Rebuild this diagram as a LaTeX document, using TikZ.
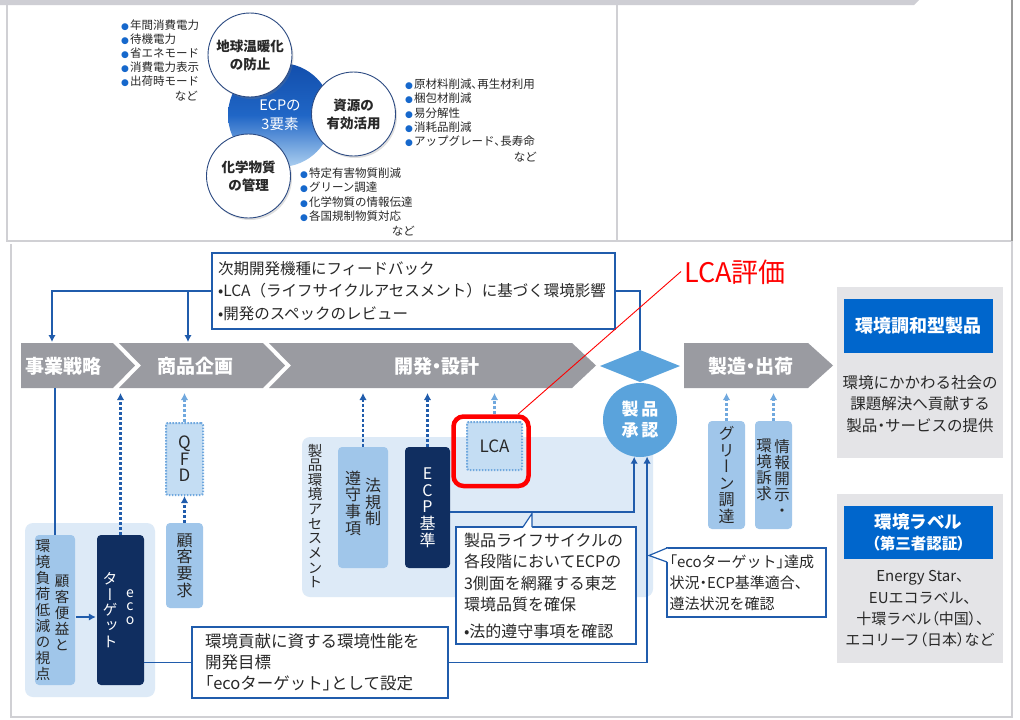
\documentclass[tikz,border=0pt]{standalone}
\usepackage{fontspec}
\setmainfont{Noto Sans CJK JP}
\newfontfamily\vjp[RawFeature=+vert]{Noto Sans CJK JP}
\newfontfamily\pjp[RawFeature=+palt]{Noto Sans CJK JP}
\newfontfamily\dejavu{DejaVu Sans}
\usetikzlibrary{arrows.meta,shadows,calc}

\definecolor{navybox}{RGB}{16,46,96}
\definecolor{connc}{RGB}{32,92,172}
\definecolor{lblue}{RGB}{160,198,234}
\definecolor{pblue}{RGB}{221,234,247}
\definecolor{qblue}{RGB}{196,221,243}
\definecolor{dblue}{RGB}{112,168,222}
\definecolor{cblue}{RGB}{90,163,220}
\definecolor{chevc}{RGB}{154,155,161}
\definecolor{rpanel}{RGB}{228,228,231}
\definecolor{hblue}{RGB}{0,102,204}
\definecolor{bulblue}{RGB}{22,104,204}
\definecolor{ecpdark}{RGB}{18,78,172}
\definecolor{ecpmid}{RGB}{32,102,198}
\definecolor{ecplight}{RGB}{172,207,240}
\definecolor{ringc}{RGB}{44,74,130}
\definecolor{framec}{RGB}{208,208,212}
\definecolor{topbar}{RGB}{206,206,212}
\definecolor{txtc}{RGB}{40,40,40}

\makeatletter
\newcommand\vt[2][1.04em]{\vtop{\baselineskip=#1\relax\lineskiplimit=-100pt\lineskip=0pt\@tfor\vt@c:=#2\do{\hbox to 1em{\hss\vt@c\hss}}}}
\makeatother
\newcommand\bul{\textcolor{bulblue}{\dejavu\fontsize{9}{9}\selectfont ●}\hspace{1pt}}
\newcommand\fs[2]{\fontsize{#1}{#2}\selectfont}
\newcommand\pp[1]{{\pjp #1}}

\begin{document}
\begin{tikzpicture}[x=1pt,y=-1pt,
  conn/.style={draw=connc,line width=1.8pt},
  arr/.style={conn,-{Latex[length=7pt,width=7.5pt]}},
  darr/.style={draw=connc,line width=2.2pt,dash pattern=on 3pt off 2pt,-{Latex[length=7pt,width=7.5pt]}},
  larr/.style={draw=dblue,line width=2.2pt,dash pattern=on 3pt off 2pt,-{Latex[length=7pt,width=7.5pt]}},
  lbox/.style={fill=lblue,rounded corners=4pt,inner sep=0pt},
  nbox/.style={fill=navybox,rounded corners=4pt,inner sep=0pt},
  qbox/.style={fill=qblue,draw=dblue,line width=2pt,dash pattern=on 1.6pt off 1.4pt,inner sep=0pt,rounded corners=2pt},
  tbox/.style={draw=connc,line width=1.2pt,fill=white,align=left,inner ysep=0pt,text=txtc},
  vtx/.style={inner sep=0pt,font=\vjp,text=txtc},
  li/.style={anchor=west,inner sep=0pt,font=\fs{11.5}{14},text=txtc},
  chev/.style={text=white,font=\pjp\bfseries\fs{19}{19},inner sep=0pt},
  ring/.style={circle,minimum size=84pt,inner sep=0pt,fill=white,draw=ringc,line width=0.9pt,
    drop shadow={shadow xshift=1.5pt,shadow yshift=-2pt,opacity=0.25},align=center,
    font=\bfseries\fs{13.5}{18},text=txtc}
]
\useasboundingbox (0,0) rectangle (1020,720);
\fill[white] (0,0) rectangle (1020,720);

% ---------- frames ----------
\fill[topbar] (0,0) -- (919,0) -- (914,5) -- (0,5) -- cycle;
\draw[framec,line width=1.2pt] (7,5) -- (7,241) -- (1012,241);
\draw[framec,line width=1.2pt] (617,5) -- (617,241);
\draw[gray!80,line width=1.2pt] (1012,0) -- (1012,241);
\draw[framec,line width=1.2pt] (11,244) -- (11,717) -- (1012,717) -- (1012,241);

% ---------- ECP circles ----------
\node[circle,minimum size=104pt,inner sep=0pt,top color=ecpdark,bottom color=ecplight,middle color=ecpmid,
  text=white,align=center,font=\fs{14.5}{18.5}] (ecp3) at (280,115) {ECPの\\3要素};
\node[ring] (c1) at (250,55) {地球温暖化\\の防止};
\node[ring] (c2) at (353.5,114) {資源の\\有効活用};
\node[ring] (c3) at (248.5,176) {化学物質\\の管理};

\foreach \t [count=\i] in {年間消費電力,待機電力,省エネモード,消費電力表示,出荷時モード}
  \node[li] (la\i) at (121,{25+14*(\i-1)}) {\bul\t};
\node[li,anchor=east] (lan) at (198,96) {など};
\foreach \t [count=\i] in {原材料削減\pp{、}再生材利用,梱包材削減,易分解性,消耗品削減,アップグレード\pp{、}長寿命}
  \node[li] (lb\i) at (405,{84.3+14.35*(\i-1)}) {\bul\t};
\node[li,anchor=east] (lbn) at (537,157) {など};
\foreach \t [count=\i] in {特定有害物質削減,グリーン調達,化学物質の情報伝達,各国規制物質対応}
  \node[li] (lc\i) at (300,{173.3+14.2*(\i-1)}) {\bul\t};
\node[li,anchor=east] (lcn) at (415,231) {など};

% ---------- process chevrons ----------
\fill[chevc] (21,343) -- (113,343) -- (135,365.5) -- (113,388) -- (21,388) -- cycle;
\fill[chevc] (119,343) -- (263,343) -- (285,365.5) -- (263,388) -- (119,388) -- (141,365.5) -- cycle;
\fill[chevc] (269,343) -- (572,343) -- (596,365.5) -- (572,388) -- (269,388) -- (291,365.5) -- cycle;
\fill[chevc] (684,343) -- (808,343) -- (833,365.5) -- (808,388) -- (684,388) -- cycle;
\node[chev] (s1) at (63,366) {事業戦略};
\node[chev] (s2) at (195,366) {商品企画};
\node[chev] (s3) at (437,366) {開発・設計};
\node[chev] (s4) at (751,366) {製造・出荷};
\fill[cblue] (600,366) -- (640,350) -- (680,366) -- (640,382) -- cycle;
\coordinate (dia) at (640,350);

\coordinate (s1t) at (52,342);
\coordinate (s2t) at (188,342);
\coordinate (fbj) at (188,291);
\coordinate (s1b) at (55,388);
\coordinate (s2b) at (120.5,393);
\coordinate (s2q) at (184.5,393);
\coordinate (s3a) at (363,393);
\coordinate (s3b) at (427.5,393);
\coordinate (s3c) at (494.5,393);
\coordinate (s4a) at (726.5,393);
\coordinate (s4b) at (773.5,393);

% ---------- feedback box ----------
\node[tbox,text width=391pt,inner xsep=6pt,minimum height=76pt,font=\fs{15.5}{22.5}] (fb) at (413.5,291)
  {次期開発機種にフィードバック\\•LCA（ライフサイクルアセスメント）に基づく環境影響\\•開発のスペックのレビュー};

% ---------- left group ----------
\node[fill=pblue,rounded corners=8pt,minimum width=130pt,minimum height=174pt,inner sep=0pt] (lp) at (90,610) {};
\node[lbox,minimum width=40pt,minimum height=150pt] (cb) at (55,610) {};
\node[vtx] (cbt1) at (43,610) {\fs{14.5}{14.5}\vt[1.1em]{環境負荷低減の視点}};
\node[vtx] (cbt2) at (62,613) {\fs{14.5}{14.5}\vt[1.1em]{顧客便益と}};
\node[nbox,minimum width=47pt,minimum height=150pt] (eco) at (120.5,610) {};
\node[vtx,text=white] (ecot1) at (130,607) {\fs{14}{14}\vt[0.95em]{eco}};
\node[vtx,text=white] (ecot2) at (110,610) {\fs{15}{15}\vt{ターゲット}};

\node[qbox,minimum width=37pt,minimum height=72pt,font=\vjp,text=txtc] (qfd) at (184.5,459) {\fs{17}{17}\vt[0.97em]{QFD}};
\node[lbox,minimum width=37pt,minimum height=85pt,font=\vjp,text=txtc] (req) at (184.5,565.5) {\fs{16}{16}\vt{顧客要求}};

% ---------- assessment group ----------
\node[fill=pblue,rounded corners=8pt,minimum width=351pt,minimum height=160pt,inner sep=0pt] (ap) at (477.5,517) {};
\node[vtx] (apt) at (315,516) {\fs{14.5}{14.5}\vt[1.01em]{製品環境アセスメント}};
\node[lbox,minimum width=50pt,minimum height=121pt] (law) at (363,507.5) {};
\node[vtx] (lawt1) at (353,503) {\fs{16}{16}\vt{遵守事項}};
\node[vtx] (lawt2) at (373,502) {\fs{16}{16}\vt{法規制}};
\node[nbox,minimum width=45pt,minimum height=121pt,font=\vjp,text=white] (ecp) at (427.5,507.5) {\fs{16}{16}\vt{ECP基準}};
\node[qbox,minimum width=55pt,minimum height=48pt,font=\fs{17}{17},text=txtc] (lca) at (494.5,446) {LCA};
\node[draw=red,line width=4.5pt,rounded corners=10pt,minimum width=75pt,minimum height=69.5pt,inner sep=0pt] (hl) at (491,451.25) {};

\node[circle,fill=cblue,minimum size=74pt,inner sep=0pt,text=white,align=center,font=\bfseries\fs{17}{21}] (appr) at (640,420) {製\hspace{3pt}品\\承\hspace{3pt}認};

% ---------- manufacturing boxes ----------
\node[lbox,minimum width=37pt,minimum height=108pt,font=\vjp,text=txtc] (grn) at (726.5,475) {\fs{16}{16}\vt{グリーン調達}};
\node[lbox,minimum width=37pt,minimum height=108pt] (info) at (773.5,475) {};
\node[vtx] (info1) at (782,478) {\fs{15.5}{15.5}\vt{情報開示・}};
\node[vtx] (info2) at (764,470) {\fs{15.5}{15.5}\vt{環境訴求}};

% ---------- connectors ----------
\draw[arr] (fb.west) -| (s1t);
\draw[arr] (fbj) -- (s2t);
\draw[conn] (fb.east) -| (dia);
\draw[conn] (s1b) -- (cb.north);
\draw[arr] ($(cb.east)+(1,7)$) -- ($(eco.west)+(-1,7)$);
\draw[darr] (eco.north) -- (s2b);
\draw[darr] (req.north) -- (qfd.south);
\draw[larr] (qfd.north) -- (s2q);
\draw[darr] (law.north) -- (s3a);
\draw[darr] (ecp.north) -- (s3b);
\draw[larr] (lca.north |- hl.north) -- (s3c);
\draw[larr] (grn.north) -- (s4a);
\draw[larr] (info.north) -- (s4b);
\draw[arr] ($(ecp.east)+(0,4.5)$) -| (appr.-99);

% ---------- text boxes ----------
\node[tbox,text width=230pt,inner xsep=13pt,minimum height=71pt,font=\fs{16.5}{21}] (tb) at (320,662.5)
  {環境貢献に資する環境性能を\\開発目標\\\pp{「}ecoターゲット\pp{」}として設定};
\draw[conn] (eco.east |- tb.west) -- (tb.west);
\draw[arr] (tb.east) -| (appr.-79);

\node[tbox,text width=164pt,inner xsep=8pt,minimum height=117pt,font=\fs{16}{21.5}] (co1) at (546,585.5)
  {製品ライフサイクルの\\各段階においてECPの\\3側面を網羅する東芝\\環境品質を確保\\[5pt]•法的遵守事項を確認};
\coordinate (p1a) at ($(co1.north west)+(67.6,0.6)$);
\coordinate (p1t) at (532,513.5);
\coordinate (p1b) at ($(co1.north west)+(76.6,0.6)$);
\fill[white] ($(p1a)+(0,0.8)$) -- (p1t) -- ($(p1b)+(0,0.8)$) -- cycle;
\draw[connc,line width=1.2pt] (p1a) -- (p1t) -- (p1b);

\node[tbox,text width=154pt,inner xsep=2.5pt,minimum height=69pt,font=\fs{15}{21}] (co2) at (746.5,582.5)
  {\pp{「}ecoターゲット\pp{」}達成\\状況\pp{・}ECP基準適合\pp{、}\\遵法状況を確認};
\coordinate (p2a) at ($(co2.north west)+(0.6,0.6)$);
\coordinate (p2t) at (649,555.5);
\coordinate (p2b) at ($(co2.north west)+(0.6,14.6)$);
\fill[white] ($(p2a)+(0.8,0.5)$) -- (p2t) -- ($(p2b)+(0.8,0)$) -- cycle;
\draw[connc,line width=1.2pt] (p2a) -- (p2t) -- (p2b);

% ---------- LCA callout ----------
\coordinate (lcap) at (681,271.5);
\draw[red,line width=0.9pt] ($(hl.north)+(27,0)$) -- (lcap);
\node[anchor=west,text=red,font=\fs{27}{27},inner sep=0pt] (lcat) at (684,272) {LCA評価};

% ---------- right panels ----------
\node[fill=rpanel,minimum width=166pt,minimum height=171pt,inner sep=0pt] (rp1) at (920,372.5) {};
\node[fill=hblue,minimum width=149pt,minimum height=54pt,inner sep=0pt,text=white,font=\bfseries\fs{18}{18}] (h1) at (918.5,326) {環境調和型製品};
\node[font=\fs{15.5}{21.5},text=txtc,align=center,inner sep=0pt] (r1t) at (920,404) {環境にかかわる社会の\\課題解決へ貢献する\\製品\pp{・}サービスの提供};
\node[fill=rpanel,minimum width=166pt,minimum height=169pt,inner sep=0pt] (rp2) at (920,578.5) {};
\node[fill=hblue,minimum width=149pt,minimum height=53pt,inner sep=0pt,text=white,align=center,font=\bfseries\fs{17.5}{21}] (h2) at (918.5,532.5) {環境ラベル\\{\fs{15.5}{21}\pp{（}第三者認証\pp{）}}};
\node[font=\fs{15}{21.3},text=txtc,align=center,inner sep=0pt] (r2t) at (920,609)
  {Energy Star\pp{、}\\EUエコラベル\pp{、}\\十環ラベル\pp{（}中国\pp{）}\pp{、}\\エコリーフ\pp{（}日本\pp{）}など};
\end{tikzpicture}
\end{document}
